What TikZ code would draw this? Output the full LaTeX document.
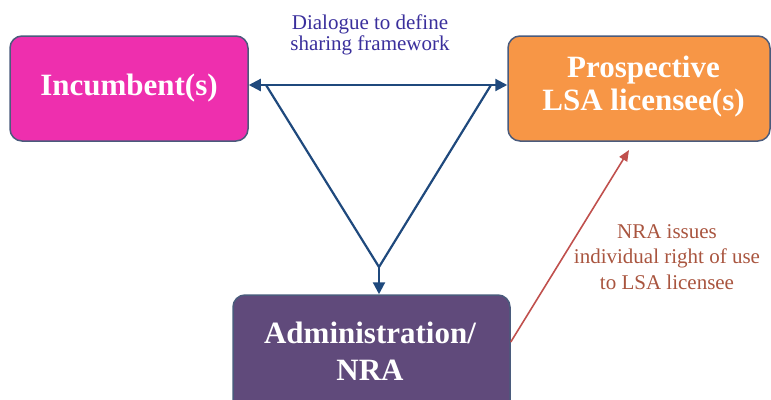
\documentclass[tikz,border=0pt]{standalone}
\usepackage{fontspec}
\setmainfont{Liberation Serif}
\usetikzlibrary{arrows.meta}
\definecolor{incfill}{HTML}{EE2FAE}
\definecolor{profill}{HTML}{F79646}
\definecolor{admfill}{HTML}{604A7B}
\definecolor{boxline}{HTML}{4A5B7C}
\definecolor{bluearr}{HTML}{1F497D}
\definecolor{redarr}{HTML}{C0504D}
\definecolor{dlgcol}{HTML}{3A2F9C}
\definecolor{nracol}{HTML}{A9553F}
\tikzset{
  box/.style={draw=boxline, line width=1.5pt, rounded corners=12pt, inner sep=0pt},
  boxtext/.style={text=white, align=center, font=\fontsize{31}{33}\selectfont\bfseries, inner sep=0pt},
  bluecon/.style={draw=bluearr, line width=2.2pt},
  bluetip/.style={-{Triangle[length=12pt,width=12pt]}},
  redcon/.style={draw=redarr, line width=1.6pt, -{Triangle[length=11pt,width=9pt]}},
  lbl/.style={align=center, inner sep=0pt, font=\fontsize{21}{21}\selectfont}
}
\begin{document}
\begin{tikzpicture}[x=1pt,y=-1pt]
\useasboundingbox (0,0) rectangle (771,399);
\clip (0,0) rectangle (771,399);
% boxes
\node[box, fill=incfill, minimum width=238pt, minimum height=105pt] (inc) at (129,88.5) {};
\node[boxtext] (inct) at (129,88) {Incumbent(s)};
\node[box, fill=profill, minimum width=262pt, minimum height=105pt] (pro) at (639,88.5) {};
\node[boxtext] (prot) at (643.5,87) {Prospective\\LSA licensee(s)};
\node[box, fill=admfill, minimum width=277pt, minimum height=135pt] (adm) at (371.5,362.5) {};
\node[boxtext, font=\fontsize{31}{37}\selectfont\bfseries] (admt) at (370,351.5) {Administration/\\NRA};
% connectors
\coordinate (L) at (266,85);
\coordinate (R) at (491,85);
\coordinate (V) at (379,267);
\coordinate (ry) at (0,342);
\coordinate (rt) at (629,150);
\draw[bluecon, {Triangle[length=12pt,width=12pt]}-{Triangle[length=12pt,width=12pt]}] (inc.east |- L) -- (pro.west |- L);
\draw[bluecon, line join=miter] (L) -- (V) -- (R);
\draw[bluecon, bluetip] (V) -- (V |- adm.north);
\draw[redcon] (adm.east |- ry) -- (rt);
% labels
\node[lbl, text=dlgcol] (dlg) at (370,35) {Dialogue to define\\sharing framework};
\node[lbl, text=nracol, font=\fontsize{21}{25.5}\selectfont] (nrat) at (667,257) {NRA issues\\individual right of use\\to LSA licensee};
\end{tikzpicture}
\end{document}
